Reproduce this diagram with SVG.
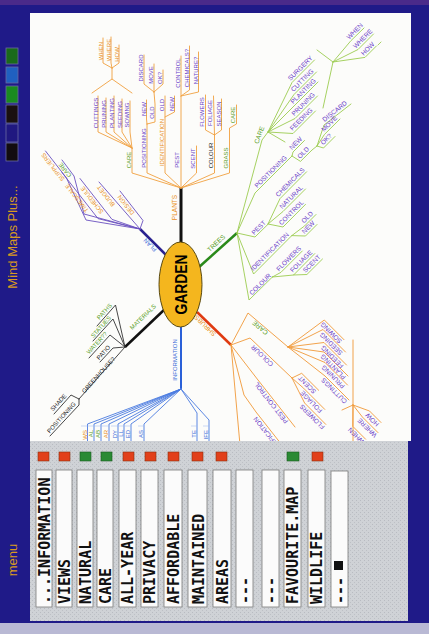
<svg xmlns="http://www.w3.org/2000/svg" width="429" height="634" viewBox="0 0 429 634">
<defs>
<pattern id="dots" width="4" height="4" patternUnits="userSpaceOnUse">
<rect width="4" height="4" fill="#cfd2d6"/>
<rect x="0" y="0" width="1" height="1" fill="#b8bbc1"/>
<rect x="2" y="2" width="1" height="1" fill="#bdc0c5"/>
</pattern>
</defs>
<style>
.l{font-family:"Liberation Sans",Arial,sans-serif;font-size:6px;text-anchor:middle;dominant-baseline:central}
.t{font-size:6.5px}
.f{font-family:"Liberation Sans",Arial,sans-serif;font-size:6px;text-anchor:end;dominant-baseline:central}
.p{fill:#6a3cc8}
.o{fill:#e8901c}
.g{fill:#5aa028}
.k{fill:#222}
.b{fill:#3a6ad8}
.ln{fill:none;stroke-width:0.9;stroke-linejoin:round;stroke-linecap:round}
.lo{stroke:#f0a040}
.lg{stroke:#9ccc50}
.ls{stroke:#f09838}
.lp{stroke:#6a50c0}
.li{stroke:#4a7ae0}
.lk{stroke:#333}
.menu{font-family:"DejaVu Sans Mono",monospace;font-weight:bold;font-size:15px;fill:#111}
.box{fill:#fbfbfb;stroke:#7a7a7a;stroke-width:0.8}
.red{fill:#e2401a;stroke:#8a3010;stroke-width:0.6}
.grn{fill:#2a8a34;stroke:#1a5a20;stroke-width:0.6}
.sw{stroke:#6a6aa0;stroke-width:0.8}
.side{font-family:"Liberation Sans",Arial,sans-serif;font-size:13px;fill:#d89a20;text-anchor:middle}
</style>

<!-- page background -->
<rect width="429" height="634" fill="#1f1a88"/>
<rect width="429" height="5" fill="#4a2a8a"/>
<rect y="623" width="429" height="11" fill="#b9b9d4"/>
<rect x="30" y="13" width="381" height="428" fill="#fcfcfa"/>

<!-- sidebar -->
<g id="sidebar">
<rect class="sw" x="6" y="48" width="12" height="16" fill="#1a6a1a"/>
<rect class="sw" x="6" y="67" width="12" height="16" fill="#2060c0"/>
<rect class="sw" x="6" y="86" width="12" height="17" fill="#1a8a20"/>
<rect class="sw" x="6" y="105" width="12" height="18" fill="#1a1010"/>
<rect class="sw" x="6" y="124" width="12" height="18" fill="#201880"/>
<rect class="sw" x="6" y="143" width="12" height="18" fill="#120c10"/>
<text class="side" transform="translate(17,237) rotate(-90)">Mind Maps Plus...</text>
<text class="side" transform="translate(17,560) rotate(-90)">menu</text>
</g>

<!-- connectors -->
<g id="connectors">
<!-- main branches -->
<line x1="181" y1="243" x2="181" y2="188" stroke="#111" stroke-width="3"/>
<line x1="198" y1="268" x2="237" y2="233" stroke="#2a8a1a" stroke-width="2.5"/>
<line x1="167" y1="256" x2="140" y2="229" stroke="#2a2290" stroke-width="2.5"/>
<line x1="165" y1="309" x2="125" y2="347" stroke="#111" stroke-width="2.5"/>
<line x1="181" y1="327" x2="181" y2="389" stroke="#2a60d8" stroke-width="2"/>
<line x1="197" y1="312" x2="231" y2="345" stroke="#e03a10" stroke-width="2.5"/>

<!-- PLANTS -->
<g class="ln lo">
<path d="M181,188 L132,173 L132,148"/>
<path d="M132,148 L98,132 L98,96 M132,148 L106,132 L106,98 M132,148 L114,132 L114,96 M132,148 L122,132 L122,99 M132,148 L130,132 L130,101"/>
<path d="M92,93 L112,79 L132,93 M112,79 L112,68"/>
<path d="M112,68 L103,63 L103,38 M112,68 L111,63 L111,37 M112,68 L119,63 L119,45"/>
<path d="M181,188 L147,173 L147,124 M147,124 L146.5,119 L146.5,100 M147,124 L155,122 L155,104 L154,92"/>
<path d="M154,92 L144,84 L144,55 M154,92 L154,64 M154,92 L163,84 L163,70"/>
<path d="M181,188 L165,173 L165,96 M165,117 L174.5,112 L174.5,96"/>
<path d="M181,188 L181,56 M181,96 L189.5,90 L189.5,46 M181,96 L198.5,92 L198.5,52"/>
<path d="M181,188 L196.5,173 L196.5,146"/>
<path d="M181,188 L214.5,173 L214.5,135 M214.5,135 L205.5,130 L205.5,95 M214.5,135 L213.5,96 M214.5,135 L221.5,130 L221.5,99"/>
<path d="M181,188 L229.5,173 L229.5,128 L236.5,124 L236.5,105"/>
</g>

<!-- TREES -->
<g class="ln lg">
<path d="M237,233 L262,140 L268,132"/>
<path d="M268,132 L292,82.5 L314.5,60 M268,132 L294,94.5 L316.5,72 M268,132 L294,106 L318,82 M268,132 L295,118.5 L317.5,96 M268,132 L293,133.5 L315.5,111 M268,132 L285,142"/>
<path d="M317,50 L333,62 L323,108 M333,62 L351,40.6 L364,28 M333,62 L358,49.5 L373.5,34 M333,62 L365,57.4 L376.4,46 M378,45 L381,42"/>
<path d="M237,233 L255,193 L292,156 M292,156 L293,152 L304.5,140.5 M292,156 L300.5,161.4 L312,150 L317,146"/>
<path d="M317,146 L324,125 L351,104 M317,146 L324.4,134.5 L340,119 M317,146 L323.5,148 L335,136.5"/>
<path d="M237,233 L255,237 L268,224.3 M268,224 L280,198.6 L306.6,171.8 M268,224 L283,211.5 L305.5,189 M268,224 L283,227 L305.5,204.4"/>
<path d="M237,233 L253.6,274 L291.8,235.6 M291.8,235.6 L304.5,226 L316,214.5 M291.8,235.6 L305.5,236 L317,224.5"/>
<path d="M237,233 L249,300 L272.4,277 M272.4,277 L281,272.3 L302.3,251 M272.4,277 L293.6,275 L314.8,253.6 M293.6,275 L306.9,274.5 L322.5,259"/>
</g>

<!-- SHRUBS -->
<g class="ln ls">
<path d="M231,345 L248,313 L288,347"/>
<path d="M288,347 L324.3,320 L344,339.7 M288,347 L323,329.5 L345.5,352 M288,347 L324,342.5 L346.5,365 M288,347 L324,352 L348,376 M288,347 L325,362.5 L347.5,385 M288,347 L325,376 L349,400"/>
<path d="M231,345 L250,338 L292,378 M292,378 L301.7,373.3 L318.7,390.3 M292,378 L303.6,388.2 L324.8,409.4 M292,378 L304.6,403 L325.8,424.4"/>
<path d="M231,345 L258,380 L295,427"/>
<path d="M231,345 L244,395 L256,412 L300,468"/>
<path d="M231,345 L240,445"/>
<path d="M353,340 L353,442 M353,405 L342,410 M353,405 L369.5,411 L381,422.5 M353,405 L362.4,417 L378,432.6 M353,405 L352.8,426.4 L365.6,439.2"/>
</g>

<!-- PLAN -->
<g class="ln lp">
<path d="M140,229 L143,220.5 L120,191"/>
<path d="M140,229 L99,182"/>
<path d="M140,229 L112,219.4 L80,178.5"/>
<path d="M140,229 L98,218.6 L62,172.5"/>
<path d="M140,229 L84,214 L74,176 L62,160"/>
<path d="M140,229 L86,220 L66.5,178 L45.5,151"/>
</g>

<!-- MATERIALS -->
<g class="ln lk">
<path d="M125,347 L115.5,305 L97,326"/>
<path d="M125,347 L113,319 L93,341"/>
<path d="M125,347 L110,335 L89,358"/>
<path d="M125,347 L113,348 L100,362"/>
<path d="M125,347 L79,399"/>
<path d="M79,399 L71,395 L54,414"/>
<path d="M79,399 L79,405 L50,436"/>
</g>

<!-- INFORMATION -->
<g class="ln li">
<path d="M181,389 L87.5,424 L87.5,442 M181,389 L94,424 L94,442 M181,389 L101,424 L101,442 M181,389 L109,424 L109,442 M181,389 L118,424 L118,442 M181,389 L124,424 L124,442 M181,389 L131,424 L131,442 M181,389 L144,424 L144,442"/>
<path d="M181,389 L197,413 L197,442 M181,389 L209,420 L209,442"/>
</g>
<g fill="none" stroke="#9ab4ee" stroke-width="0.5">
<path d="M81,426 H87.5 M87.5,426 H94 M94,426 H101 M101,426 H109 M111,426 H118 M118,426 H124 M125,426 H131 M138,426 H144 M191,426 H197 M203,426 H209"/>
</g>
</g>

<!-- central node -->
<g id="garden">
<ellipse cx="180.5" cy="284.5" rx="21.5" ry="42.5" fill="#f4b61e" stroke="#5a4a10" stroke-width="1"/>
<text transform="translate(187,284.5) rotate(-90)" font-family="Liberation Sans, Arial, sans-serif" font-weight="bold" font-size="16" text-anchor="middle" textLength="60" lengthAdjust="spacingAndGlyphs">GARDEN</text>
</g>

<!-- main branch labels -->
<g id="branch-labels" class="l">
<text class="o t" transform="translate(174.5,207.5) rotate(-90)">PLANTS</text>
<text class="g t" transform="translate(216,243) rotate(-43)">TREES</text>
<text class="b" transform="translate(150,245) rotate(-135)">PLAN</text>
<text class="g" transform="translate(143,317) rotate(-44)">MATERIALS</text>
<text class="b" transform="translate(174.5,360) rotate(-90)">INFORMATION</text>
<text class="o t" transform="translate(205,326) rotate(-136)">SHRUBS</text>
</g>

<!-- PLANTS labels -->
<g id="plants" class="l">
<text class="g" transform="translate(128.5,160) rotate(-90)">CARE</text>
<text class="p" transform="translate(95.5,113) rotate(-90)">CUTTINGS</text>
<text class="p" transform="translate(103.5,114) rotate(-90)">PRUNING</text>
<text class="p" transform="translate(111.5,113) rotate(-90)">PLANTING</text>
<text class="p" transform="translate(119.5,114.5) rotate(-90)">SEEDING</text>
<text class="p" transform="translate(127,115) rotate(-90)">SOWING</text>
<text class="o" transform="translate(100.5,51) rotate(-90)">WHEN</text>
<text class="o" transform="translate(108.5,50) rotate(-90)">WHERE</text>
<text class="o" transform="translate(116.5,54.5) rotate(-90)">HOW</text>
<text class="p" transform="translate(143.5,148) rotate(-90)">POSITIONING</text>
<text class="p" transform="translate(143.5,109) rotate(-90)">NEW</text>
<text class="p" transform="translate(152,112.5) rotate(-90)">OLD</text>
<text class="p" transform="translate(141,68) rotate(-90)">DISCARD</text>
<text class="p" transform="translate(151,75) rotate(-90)">MOVE</text>
<text class="p" transform="translate(160,78) rotate(-90)">OK?</text>
<text class="o" transform="translate(161.5,142.5) rotate(-90)">IDENTIFICATION</text>
<text class="p" transform="translate(162,105) rotate(-90)">OLD</text>
<text class="p" transform="translate(171.5,104) rotate(-90)">NEW</text>
<text class="p" transform="translate(177,160) rotate(-90)">PEST</text>
<text class="p" transform="translate(178,73) rotate(-90)">CONTROL</text>
<text class="p" transform="translate(186.5,68) rotate(-90)">CHEMICALS?</text>
<text class="p" transform="translate(195.5,70.5) rotate(-90)">NATURE?</text>
<text class="p" transform="translate(193,158.5) rotate(-90)">SCENT</text>
<text class="k" transform="translate(211,155.5) rotate(-90)">COLOUR</text>
<text class="p" transform="translate(202,112) rotate(-90)">FLOWERS</text>
<text class="p" transform="translate(210,113) rotate(-90)">FOLIAGE</text>
<text class="p" transform="translate(218.5,114) rotate(-90)">SEASON</text>
<text class="g" transform="translate(226,158) rotate(-90)">GRASS</text>
<text class="g" transform="translate(233,115) rotate(-90)">CARE</text>
</g>

<!-- TREES labels -->
<g id="trees" class="l t">
<text class="g" transform="translate(259,135) rotate(-70)">CARE</text>
<text class="p" transform="translate(300,68) rotate(-45)">SURGERY</text>
<text class="p" transform="translate(302,80) rotate(-45)">CUTTING</text>
<text class="p" transform="translate(303,91) rotate(-45)">PLANTING</text>
<text class="p" transform="translate(303,104) rotate(-45)">PRUNING</text>
<text class="p" transform="translate(301,119) rotate(-45)">FEEDING</text>
<text class="p" transform="translate(354.5,31) rotate(-45)">WHEN</text>
<text class="p" transform="translate(362.5,38.5) rotate(-45)">WHERE</text>
<text class="p" transform="translate(367.5,48.5) rotate(-45)">HOW</text>
<text class="p" transform="translate(270.5,171.5) rotate(-45)">POSITIONING</text>
<text class="p" transform="translate(295.5,143) rotate(-45)">NEW</text>
<text class="p" transform="translate(303,152.5) rotate(-45)">OLD</text>
<text class="p" transform="translate(334.5,111) rotate(-38)">DISCARD</text>
<text class="p" transform="translate(329,123.5) rotate(-45)">MOVE</text>
<text class="p" transform="translate(326,139) rotate(-45)">OK?</text>
<text class="p" transform="translate(258.5,227.5) rotate(-45)">PEST</text>
<text class="p" transform="translate(290,182) rotate(-45)">CHEMICALS</text>
<text class="p" transform="translate(291,197) rotate(-45)">NATURAL</text>
<text class="p" transform="translate(291,212.5) rotate(-45)">CONTROL</text>
<text class="p" transform="translate(307,217) rotate(-45)">OLD</text>
<text class="p" transform="translate(308,227) rotate(-45)">NEW</text>
<text class="p" transform="translate(269.5,251.5) rotate(-45)">IDENTIFICATION</text>
<text class="p" transform="translate(260,284) rotate(-45)">COLOUR</text>
<text class="p" transform="translate(288.5,258.5) rotate(-45)">FLOWERS</text>
<text class="p" transform="translate(301,261) rotate(-45)">FOLIAGE</text>
<text class="p" transform="translate(311.5,263.5) rotate(-45)">SCENT</text>
</g>

<!-- SHRUBS labels -->
<g id="shrubs" class="l t">
<text class="g" transform="translate(260,328) rotate(-140)">CARE</text>
<text class="p" transform="translate(331,333) rotate(-135)">SOWING</text>
<text class="p" transform="translate(331,344) rotate(-135)">SEEDING</text>
<text class="p" transform="translate(332,357) rotate(-135)">FEEDING</text>
<text class="p" transform="translate(333,367) rotate(-135)">PLANTING</text>
<text class="p" transform="translate(333,377) rotate(-135)">PRUNING</text>
<text class="p" transform="translate(334,391) rotate(-135)">CUTTINGS</text>
<text class="p" transform="translate(262,356) rotate(-136)">COLOUR</text>
<text class="p" transform="translate(307,385) rotate(-135)">SCENT</text>
<text class="p" transform="translate(311,402) rotate(-135)">FOLIAGE</text>
<text class="p" transform="translate(312,417) rotate(-135)">FLOWERS</text>
<text class="p" transform="translate(271,403) rotate(-128)">PEST CONTROL</text>
<text class="p" transform="translate(270.5,438) rotate(-128)">IDENTIFICATION</text>
<text class="p" transform="translate(372,420) rotate(-135)">HOW</text>
<text class="p" transform="translate(367,428) rotate(-135)">WHERE</text>
<text class="p" transform="translate(356,436) rotate(-135)">WHEN</text>
</g>

<!-- PLAN labels -->
<g id="plan" class="l">
<text class="o" transform="translate(126,205) rotate(-128)">DESIGN</text>
<text class="o" transform="translate(106,196) rotate(-128)">BUDGET</text>
<text class="o" transform="translate(92,200) rotate(-128)">SCHEDULE</text>
<text class="o" transform="translate(77,198) rotate(-128)">TIMESCALE</text>
<text class="g" transform="translate(65,170) rotate(-128)">CARE</text>
<text class="o" transform="translate(53,167) rotate(-128)">SUPPLIERS</text>
</g>

<!-- MATERIALS labels -->
<g id="materials" class="l">
<text class="g" transform="translate(104.5,311.5) rotate(-48)">PATHS</text>
<text class="g" transform="translate(101,327) rotate(-48)">STATUES</text>
<text class="g" transform="translate(97,343) rotate(-48)">WATER??</text>
<text class="k" transform="translate(103.5,352.5) rotate(-48)">PATIO</text>
<text class="k" transform="translate(98.5,375) rotate(-48)">GREENHOUSE?</text>
<text class="k" transform="translate(58.5,402.5) rotate(-48)">SHADE</text>
<text class="k" transform="translate(61.5,417.5) rotate(-48)">POSITIONING</text>
</g>

<!-- INFORMATION fragments -->
<g id="information">
<text class="f o" transform="translate(84.5,430) rotate(-90)">WS</text>
<text class="f g" transform="translate(91,430) rotate(-90)">AL</text>
<text class="f g" transform="translate(98,430) rotate(-90)">AB</text>
<text class="f o" transform="translate(106,430) rotate(-90)">AR</text>
<text class="f b" transform="translate(115,430) rotate(-90)">DY</text>
<text class="f b" transform="translate(121,430) rotate(-90)">LL</text>
<text class="f b" transform="translate(128,430) rotate(-90)">ED</text>
<text class="f b" transform="translate(141,430) rotate(-90)">AS</text>
<text class="f b" transform="translate(194,430) rotate(-90)">TE</text>
<text class="f b" transform="translate(206,430) rotate(-90)">IFE</text>
</g>

<!-- menu panel -->
<rect x="30" y="441" width="378" height="180" fill="url(#dots)"/>
<g id="menu">
<rect class="red" x="38" y="452" width="11" height="9"/>
<rect class="red" x="59" y="452" width="11" height="9"/>
<rect class="grn" x="80" y="452" width="11" height="9"/>
<rect class="grn" x="101" y="452" width="11" height="9"/>
<rect class="red" x="123" y="452" width="11" height="9"/>
<rect class="red" x="145" y="452" width="11" height="9"/>
<rect class="red" x="168" y="452" width="11" height="9"/>
<rect class="red" x="192" y="452" width="11" height="9"/>
<rect class="red" x="216" y="452" width="11" height="9"/>
<rect class="grn" x="287" y="452" width="12" height="9"/>
<rect class="red" x="312" y="452" width="11" height="9"/>

<rect class="box" x="36" y="470" width="16" height="137"/>
<rect class="box" x="56" y="470" width="16" height="137"/>
<rect class="box" x="77" y="470" width="16" height="137"/>
<rect class="box" x="97" y="470" width="16" height="137"/>
<rect class="box" x="119" y="470" width="17" height="137"/>
<rect class="box" x="141" y="470" width="17" height="137"/>
<rect class="box" x="164" y="470" width="18" height="137"/>
<rect class="box" x="188" y="470" width="19" height="137"/>
<rect class="box" x="213" y="470" width="18" height="137"/>
<rect class="box" x="236" y="470" width="17" height="137"/>
<rect class="box" x="262" y="470" width="17" height="137"/>
<rect class="box" x="284" y="470" width="17" height="137"/>
<rect class="box" x="308" y="470" width="17" height="137"/>
<rect class="box" x="331" y="471" width="17" height="136"/>

<text class="menu" transform="translate(50,604) rotate(-90)">...INFORMATION</text>
<text class="menu" transform="translate(70,604) rotate(-90)">VIEWS</text>
<text class="menu" transform="translate(91,604) rotate(-90)">NATURAL</text>
<text class="menu" transform="translate(111,604) rotate(-90)">CARE</text>
<text class="menu" transform="translate(133,604) rotate(-90)">ALL-YEAR</text>
<text class="menu" transform="translate(155,604) rotate(-90)">PRIVACY</text>
<text class="menu" transform="translate(179,604) rotate(-90)">AFFORDABLE</text>
<text class="menu" transform="translate(204,604) rotate(-90)">MAINTAINED</text>
<text class="menu" transform="translate(228,604) rotate(-90)">AREAS</text>
<text class="menu" transform="translate(250,604) rotate(-90)">---</text>
<text class="menu" transform="translate(276,604) rotate(-90)">---</text>
<text class="menu" transform="translate(298,604) rotate(-90)">FAVOURITE.MAP</text>
<text class="menu" transform="translate(322,604) rotate(-90)">WILDLIFE</text>
<text class="menu" transform="translate(345,604) rotate(-90)">---</text>
<rect x="334" y="561" width="9" height="9" fill="#111"/>
</g>
</svg>
